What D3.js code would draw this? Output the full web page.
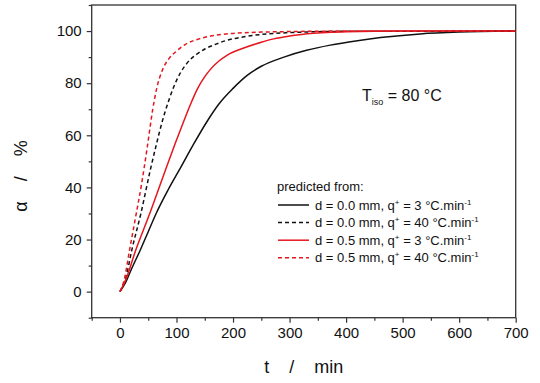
<!DOCTYPE html>
<html>
<head>
<meta charset="utf-8">
<script src="https://cdn.jsdelivr.net/npm/d3@7"></script>
<style>
  body { margin: 0; background: #fff; }
  svg text { font-family: "Liberation Sans", Arial, sans-serif; fill: #111; }
</style>
</head>
<body>
<svg id="chart" width="540" height="383"></svg>
<script>
// time (min) and conversion (%)
var tBlack3 = [0, 10, 20, 36, 50, 64, 85, 107, 130, 154, 175, 200, 225, 250, 290, 330, 372, 420, 461, 531, 600, 700];
var aBlack3 = [0, 3.5, 8.5, 16, 23, 30, 39, 47.5, 56.5, 65.3, 72, 78, 83, 86.5, 90, 92.6, 94.6, 96.3, 97.5, 98.9, 99.6, 100];

var tBlack40 = [0, 10, 21, 37, 54, 65, 75, 85, 95, 107, 119, 135, 151, 170, 187, 222, 260, 300, 400, 700];
var aBlack40 = [0, 5, 16, 30, 47, 57, 65.5, 72.5, 78.5, 84, 87.8, 91, 93.2, 95, 96.3, 97.9, 98.9, 99.4, 99.9, 100];

var tRed3 = [0, 11, 28, 51, 81, 98, 113, 125, 137, 150, 160, 175, 190, 219, 250, 272, 300, 331, 400, 500, 700];
var aRed3 = [0, 5, 16, 29, 47, 57, 65.5, 72, 77.8, 82.5, 85.3, 88.5, 90.8, 93.5, 95.7, 97, 98.1, 99, 99.7, 100, 100];

var tRed40 = [0, 8, 17, 28, 38, 48, 58, 65, 75, 87, 100, 115, 140, 170, 200, 250, 300, 400, 700];
var aRed40 = [0, 5, 16, 29, 41, 55, 70, 78, 85, 89.5, 92.3, 94.8, 97, 98.4, 99.1, 99.6, 99.8, 100, 100];

var xTicks = [0, 100, 200, 300, 400, 500, 600, 700];
var xMinor = [-50, 50, 150, 250, 350, 450, 550, 650];
var yTicks = [0, 20, 40, 60, 80, 100];
var yMinor = [-10, 10, 30, 50, 70, 90, 110];

var legendNames = ["d = 0.0 mm, q", "d = 0.0 mm, q", "d = 0.5 mm, q", "d = 0.5 mm, q"];
var legendRates = [" = 3 \u00B0C.min", " = 40 \u00B0C.min", " = 3 \u00B0C.min", " = 40 \u00B0C.min"];

var red = "#e5161e";
var series = [
	{t: tBlack3, a: aBlack3, color: "#111", dash: null},
	{t: tBlack40, a: aBlack40, color: "#111", dash: "4,3"},
	{t: tRed3, a: aRed3, color: red, dash: null},
	{t: tRed40, a: aRed40, color: red, dash: "4,3"}
];

var plotLeft = 91.7, plotRight = 515.7, plotTop = 5, plotBottom = 317.7;

var svg = d3.select("#chart");

var x = d3.scaleLinear().domain([-50, 700]).range([plotLeft, plotRight]);
var y = d3.scaleLinear().domain([-10, 110]).range([plotBottom, plotTop]);

// frame
svg.append("rect")
	.attr("x", plotLeft).attr("y", plotTop)
	.attr("width", plotRight - plotLeft).attr("height", plotBottom - plotTop)
	.attr("fill", "none").attr("stroke", "#333").attr("stroke-width", 1.3);

// curves
var line = d3.line()
	.x(function(d) { return x(d[0]); })
	.y(function(d) { return y(d[1]); })
	.curve(d3.curveMonotoneX);

series.forEach(function(s) {
	var pts = s.t.map(function(t, i) { return [t, s.a[i]]; });
	svg.append("path")
		.datum(pts)
		.attr("d", line)
		.attr("fill", "none")
		.attr("stroke", s.color)
		.attr("stroke-width", 1.5)
		.attr("stroke-dasharray", s.dash);
});

// axes
function styleAxis(g) {
	g.select(".domain").remove();
	g.selectAll("line").attr("stroke", "#333").attr("stroke-width", 1.2);
	g.selectAll("text").style("font-size", "15px").attr("fill", "#111");
}

svg.append("g")
	.attr("transform", "translate(0," + plotBottom + ")")
	.call(d3.axisBottom(x).tickValues(xTicks).tickSize(5).tickPadding(5).tickFormat(d3.format("d")))
	.call(styleAxis);
svg.append("g")
	.attr("transform", "translate(0," + plotBottom + ")")
	.call(d3.axisBottom(x).tickValues(xMinor).tickSize(3).tickFormat(""))
	.call(styleAxis);

svg.append("g")
	.attr("transform", "translate(" + plotLeft + ",0)")
	.call(d3.axisLeft(y).tickValues(yTicks).tickSize(5).tickPadding(5).tickFormat(d3.format("d")))
	.call(styleAxis);
svg.append("g")
	.attr("transform", "translate(" + plotLeft + ",0)")
	.call(d3.axisLeft(y).tickValues(yMinor).tickSize(3).tickFormat(""))
	.call(styleAxis);

// axis titles
svg.append("text")
	.attr("x", (plotLeft + plotRight) / 2).attr("y", 373)
	.attr("text-anchor", "middle")
	.style("font-size", "18px")
	.attr("xml:space", "preserve")
	.text("t    /    min");

svg.append("text")
	.attr("transform", "translate(27,176) rotate(-90)")
	.attr("text-anchor", "middle")
	.style("font-size", "18px")
	.attr("xml:space", "preserve")
	.text("\u03B1    /    %");

// T_iso annotation
var ann = svg.append("text").attr("x", 362).attr("y", 101).style("font-size", "16px");
ann.append("tspan").text("T");
ann.append("tspan").attr("dy", 4).style("font-size", "9px").text("iso");
ann.append("tspan").attr("dy", -4).text(" = 80 \u00B0C");

// legend
svg.append("text")
	.attr("x", 277).attr("y", 191)
	.style("font-size", "13px")
	.text("predicted from:");

series.forEach(function(s, i) {
	var ly = 205 + i * 17.6;
	svg.append("line")
		.attr("x1", 278).attr("x2", 309)
		.attr("y1", ly).attr("y2", ly)
		.attr("stroke", s.color)
		.attr("stroke-width", 1.5)
		.attr("stroke-dasharray", s.dash);
	var tx = svg.append("text")
		.attr("x", 315).attr("y", ly + 4.5)
		.style("font-size", "13px");
	tx.append("tspan").text(legendNames[i]);
	tx.append("tspan").attr("dy", -5).style("font-size", "8px").text("+");
	tx.append("tspan").attr("dy", 5).text(legendRates[i]);
	tx.append("tspan").attr("dy", -5).style("font-size", "8px").text("-1");
});
</script>
</body>
</html>
